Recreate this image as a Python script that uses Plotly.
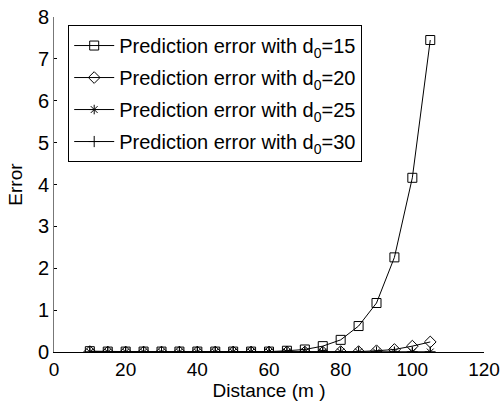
import plotly.graph_objects as go

distance = [10, 15, 20, 25, 30, 35, 40, 45, 50, 55, 60, 65, 70, 75, 80, 85, 90, 95, 100, 105]
err_d15 = [0.02, 0.01, 0.01, 0.01, 0.01, 0.01, 0.01, 0.01, 0.01, 0.01, 0.01, 0.03, 0.06, 0.14, 0.29, 0.62, 1.17, 2.26, 4.16, 7.45]
err_d20 = [0.01, 0.0, 0.0, 0.0, 0.0, 0.0, 0.0, 0.0, 0.0, 0.0, 0.0, 0.0, 0.0, 0.0, 0.01, 0.01, 0.03, 0.06, 0.14, 0.24]
err_d25 = [0.0] * 20
err_d30 = [0.0] * 20

series_names = ["Prediction error with d<sub>0</sub>=15",
                "Prediction error with d<sub>0</sub>=20",
                "Prediction error with d<sub>0</sub>=25",
                "Prediction error with d<sub>0</sub>=30"]
x_ticks = [0, 20, 40, 60, 80, 100, 120]
y_ticks = [0, 1, 2, 3, 4, 5, 6, 7, 8]

font_family = "Liberation Sans, Arial, sans-serif"
fig = go.Figure()
styles = [("square-open", 9), ("diamond-open", 9), ("asterisk-open", 8), ("cross-thin-open", 8)]
for i, (ys, name, (sym, sz)) in enumerate(zip([err_d15, err_d20, err_d25, err_d30], series_names, styles)):
    fig.add_trace(go.Scatter(
        x=distance, y=ys, name=name, mode="lines+markers", legendgroup=f"g{i}",
        line=dict(color="black", width=1),
        marker=dict(symbol=sym, size=sz, color="black", line=dict(color="black", width=1)),
    ))

fig.update_layout(
    width=500, height=401,
    margin=dict(l=54, r=16, t=17, b=49),
    paper_bgcolor="white", plot_bgcolor="white",
    font=dict(family=font_family, size=20, color="black"),
    showlegend=True,
    legend=dict(
        x=0.033, y=0.976, xanchor="left", yanchor="top",
        bordercolor="black", borderwidth=1, bgcolor="white",
        font=dict(size=20, family=font_family),
        tracegroupgap=3, itemwidth=40,
    ),
    xaxis=dict(
        range=[0, 120], tickvals=x_ticks, ticktext=[str(v) for v in x_ticks],
        showgrid=False, zeroline=False, showline=True, linecolor="black", linewidth=1,
        ticks="inside", ticklen=3, tickcolor="black", tickfont=dict(size=19),
        ticklabeloverflow="allow", automargin=False,
        title=dict(text="Distance (m )", font=dict(size=19), standoff=0),
        mirror=False,
    ),
    yaxis=dict(
        range=[0, 8], tickvals=y_ticks, ticktext=[str(v) for v in y_ticks],
        showgrid=False, zeroline=False, showline=True, linecolor="#777777", linewidth=1,
        ticks="inside", ticklen=3, tickcolor="black", tickfont=dict(size=20),
        automargin=False,
        title=dict(text="Error", font=dict(size=19), standoff=10),
        mirror=False,
    ),
)

fig.write_html("out.html")
